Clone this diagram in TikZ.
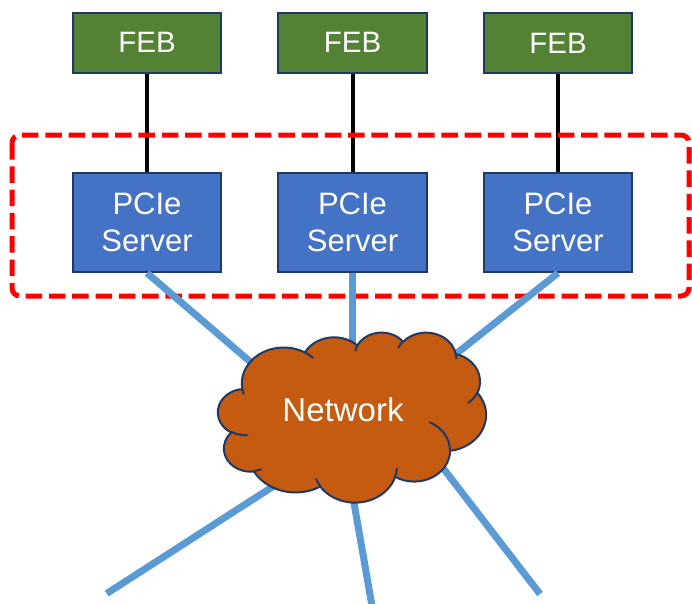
\documentclass[tikz,border=0pt]{standalone}
\usepackage{fontspec}
\setmainfont{Liberation Sans}

\definecolor{febgreen}{HTML}{548235}
\definecolor{pcieblue}{HTML}{4472C4}
\definecolor{edgenavy}{HTML}{1F3864}
\definecolor{cloudorange}{HTML}{C55A11}
\definecolor{linkblue}{HTML}{5B9BD5}
\definecolor{groupred}{HTML}{FF0000}

% Elliptic arc whose start and sweep are given as visual (ray) angles
\newcommand\cldarc[4]{arc[x radius=#1, y radius=#2,
  start angle={#3+vis(#1/#2,#3)},
  delta angle={#4+vis(#1/#2,#3+#4)-vis(#1/#2,#3)}]}

\begin{document}
\begin{tikzpicture}[x=1pt,y=-1pt,
  declare function={vis(\r,\a)=mod(atan2(\r*sin(\a),cos(\a))-\a+900,360)-180;},
  febbox/.style={rectangle, draw=edgenavy, line width=2pt, fill=febgreen,
    minimum width=148.5pt, minimum height=60pt, inner sep=0pt, text=white,
    font=\fontsize{29.5}{36}\selectfont},
  pciebox/.style={rectangle, draw=edgenavy, line width=2pt, fill=pcieblue,
    minimum width=148.5pt, minimum height=99pt, inner sep=0pt, text=white,
    align=center, font=\fontsize{31}{37}\selectfont},
  feblink/.style={draw=black, line width=4pt},
  netlink/.style={draw=linkblue, line width=7pt},
  grouping/.style={draw=groupred, line width=5pt, dash pattern=on 16.5pt off 6.8pt,
    rounded corners=8pt},
  cloudbody/.style={fill=cloudorange, draw=edgenavy, line width=2pt, line join=round},
  cloudfold/.style={draw=edgenavy, line width=2pt, line cap=round}]
\useasboundingbox (0,0) rectangle (692,603);

% front-end boards and their servers
\node[febbox] (f1) at (147,42.5) {FEB};
\node[febbox] (f2) at (352.5,42.5) {FEB};
\node[febbox] (f3) at (558,43) {FEB};
\node[pciebox] (p1) at (147,222.5) {PCIe\\Server};
\node[pciebox] (p2) at (352.5,222.5) {PCIe\\Server};
\node[pciebox] (p3) at (558,222.5) {PCIe\\Server};

\draw[feblink] (f1.south) -- (p1.north);
\draw[feblink] (f2.south) -- (p2.north);
\draw[feblink] (f3.south) -- (p3.north);

% server group
\draw[grouping] (12,135) rectangle (689,296);

% attachment points on the network cloud and loose cable ends
\coordinate (c1) at (257.5,368);
\coordinate (c2) at (352.5,352);
\coordinate (c3) at (447.3,360.7);
\coordinate (d1) at (285.4,478.5);
\coordinate (d2) at (351.6,489);
\coordinate (d3) at (435,457.6);
\coordinate (e1) at (106.7,593.5);
\coordinate (e2) at (372,606);
\coordinate (e3) at (540,594);

\draw[netlink] (p1.south) -- (c1);
\draw[netlink] (p2.south) -- (c2);
\draw[netlink] (p3.south) -- (c3);
\draw[netlink] (d1) -- (e1);
\draw[netlink] (d2) -- (e2);
\draw[netlink] (d3) -- (e3);

% network cloud, drawn in a 100 x 100 frame
\begin{scope}[shift={(218,332)}, xscale=2.68, yscale=1.70]
  \path[cloudbody] (9.028,33.264)
    \cldarc{15.632}{21.273}{-190.487}{123.781}
    \cldarc{12.345}{16.822}{-144.102}{89.945}
    \cldarc{10.104}{13.762}{-145.808}{99.723}
    \cldarc{11.243}{15.266}{-130.986}{117.242}
    \cldarc{12.345}{16.836}{-78.709}{109.027}
    \cldarc{15.683}{21.343}{-46.267}{130.269}
    \cldarc{13.391}{18.211}{0.625}{114.033}
    \cldarc{15.630}{21.331}{22.452}{115.173}
    \cldarc{17.870}{24.405}{66.243}{75.711}
    \cldarc{10.093}{13.699}{-274.942}{146.736}
    \cldarc{10.058}{13.762}{-246.829}{152.519}
    -- cycle;
  \path[cloudfold]
    (10.863,60.595) \cldarc{10.058}{13.762}{86.742}{26.430}
    (16.037,80.785) \cldarc{10.093}{13.699}{73.610}{11.447}
    (38.144,90.486) \cldarc{15.630}{21.331}{137.624}{14.081}
    (66.729,80.442) \cldarc{15.630}{21.331}{6.453}{15.998}
    (79.002,53.134) \cldarc{13.391}{18.211}{-70.292}{70.917}
    (96.755,35.542) \cldarc{12.345}{16.836}{30.318}{27.752}
    (88.713,12.560) \cldarc{11.243}{15.266}{-13.744}{14.859}
    (67.310,9.148)  \cldarc{11.243}{15.266}{-149.181}{18.195}
    (51.252,10.926) \cldarc{10.104}{13.762}{-163.494}{17.686}
    (32.407,12.019) \cldarc{15.632}{21.273}{-66.707}{12.319}
    (9.553,36.549)  \cldarc{15.632}{21.273}{157.654}{11.858};
\end{scope}
\node[text=white, inner sep=0pt, font=\fontsize{33}{38}\selectfont] (net) at (343,410) {Network};
\end{tikzpicture}
\end{document}
